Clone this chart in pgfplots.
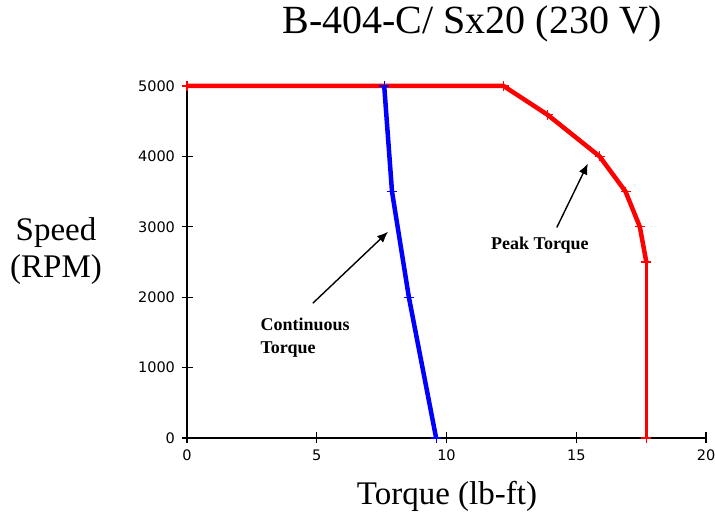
\documentclass[border=0pt]{standalone}
\usepackage{fontspec}
\setmainfont{Liberation Serif}
\newfontfamily\tickfont{DejaVu Sans}
\usepackage{pgfplots}
\pgfplotsset{compat=1.18}
\usetikzlibrary{arrows.meta}
\begin{document}
\begin{tikzpicture}[x=1pt,y=1pt]
\useasboundingbox (0,0) rectangle (715,521);
\begin{axis}[
  at={(187pt,83pt)}, anchor=south west,
  scale only axis, width=519pt, height=352pt,
  xmin=0, xmax=20, ymin=0, ymax=5000,
  axis x line=bottom, axis y line=left,
  axis line style={-, line width=1.5pt, black},
  xtick={0,5,10,15,20}, ytick={0,1000,2000,3000,4000,5000},
  tick align=center, major tick length=11pt,
  tick style={black, line width=1.2pt},
  /pgf/number format/assume math mode=true,
  /pgf/number format/1000 sep={},
  scaled y ticks=false,
  ticklabel style={font=\tickfont\fontsize{14.5}{16}\selectfont},
  xticklabel style={yshift=-3pt},
  yticklabel style={xshift=-3pt},
  clip=false,
]
\addplot[red, line width=4.5pt, mark=+, mark size=5pt, mark options={line width=1.2pt, solid}]
  coordinates {(0,5000) (12.2,5000) (13.9,4590) (15.9,4000) (16.9,3500) (17.45,3000) (17.7,2500)};
\addplot[red, line width=3.5pt, mark=+, mark size=5pt, mark options={line width=1.2pt, solid}]
  coordinates {(17.7,2500) (17.7,0)};
\addplot[blue, line width=4.5pt, mark=+, mark size=5pt, mark options={line width=1.2pt, solid}]
  coordinates {(7.6,5000) (7.9,3500) (8.55,2000) (9.6,0)};
\draw[-{Latex[length=11pt,width=9pt]}, line width=1.4pt] (axis cs:4.85,1915) -- (axis cs:7.75,2930);
\draw[-{Latex[length=11pt,width=9pt]}, line width=1.4pt] (axis cs:14.25,2990) -- (axis cs:15.45,3900);
\node[font=\bfseries\fontsize{18}{23}\selectfont, align=left] at (axis cs:4.55,1430) {Continuous\\Torque};
\node[font=\bfseries\fontsize{18}{21}\selectfont] at (axis cs:13.6,2740) {Peak Torque};
\end{axis}
\node[font=\fontsize{40}{44}\selectfont] at (472,497) {B-404-C/ Sx20 (230 V)};
\node[font=\fontsize{33}{37}\selectfont, align=center] at (56,270) {Speed\\(RPM)};
\node[font=\fontsize{33}{36}\selectfont] at (447,25) {Torque (lb-ft)};
\end{tikzpicture}
\end{document}
